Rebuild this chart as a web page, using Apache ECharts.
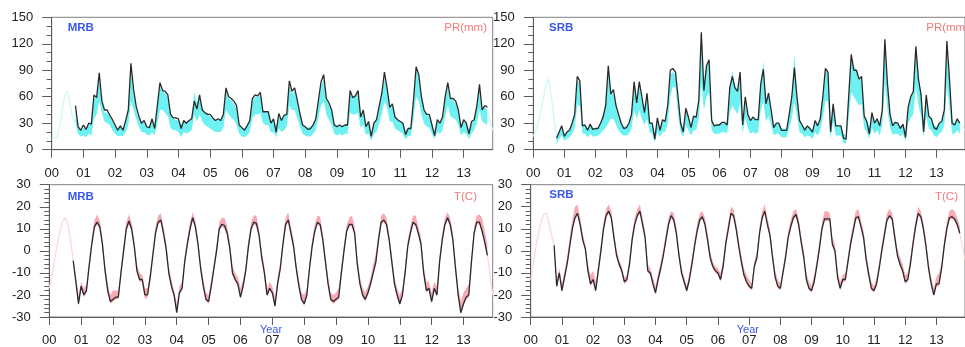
<!DOCTYPE html>
<html><head><meta charset="utf-8">
<script src="https://cdn.jsdelivr.net/npm/echarts@6/dist/echarts.min.js"></script>
<style>html,body{margin:0;padding:0;background:#fff}#c{width:965px;height:347px}</style>
</head><body><div id="c"></div>
<script>
// x axis: month index, 0 = Jan 2000; ticks every 12 months
const yearLabels = ['00','01','02','03','04','05','06','07','08','09','10','11','12','13'];
const firstObsMonth = 9;   // Oct 2000
const postStartMonth = 165;

// ---- MRB precipitation (mm), Oct 2000 .. Oct 2013 ----
const mrbPR = [50,26,22,
28,23,30,29,62,59,87,55,45,45,39,34,
28,22,27,22,33,45,98,68,49,38,30,33,
26,25,35,24,50,76,67,66,62,40,36,36,
35,24,33,30,33,35,55,46,62,45,42,40,
40,36,33,35,33,40,70,60,58,55,50,28,
25,22,27,33,58,62,61,65,43,43,43,30,
35,20,41,33,39,40,78,66,70,56,41,28,
26,23,24,28,35,56,77,85,58,53,45,28,
26,28,26,28,28,67,59,61,67,37,45,26,
32,15,30,34,49,64,88,70,48,52,37,34,
32,30,17,24,24,56,94,85,60,45,40,40,
28,16,34,30,37,60,76,58,58,55,45,25,
34,30,18,32,34,50,74,45,50,48];
const mrbPRhi = [45,24,22,
25,24,28,30,58,58,80,55,42,42,38,32,
27,24,26,24,32,45,90,62,46,36,30,32,
26,26,33,28,50,72,66,64,60,40,35,34,
33,28,32,30,33,36,65,52,60,48,42,40,
38,35,33,34,33,42,66,58,56,52,46,28,
25,24,28,34,55,60,60,62,45,42,42,32,
34,26,38,34,38,42,72,64,66,54,40,30,
26,25,26,28,36,55,72,80,58,50,44,30,
27,28,27,28,30,64,60,60,64,40,44,28,
30,18,30,34,48,62,82,68,50,50,38,34,
32,30,22,25,26,55,90,82,60,46,40,38,
30,20,32,30,36,58,72,58,56,52,44,28,
32,30,22,30,34,48,70,48,48,45];
const mrbPRlo = [30,18,15,
16,14,18,16,35,40,55,42,32,30,28,22,
18,15,16,15,20,28,55,45,35,26,20,20,
17,16,20,16,30,45,45,42,38,25,22,22,
20,14,20,18,20,22,40,32,40,32,28,26,
24,22,20,20,20,25,45,40,36,34,28,18,
15,14,16,20,36,40,40,42,30,28,28,20,
20,14,24,20,22,26,50,45,45,36,26,18,
16,15,15,18,22,36,50,55,40,34,28,18,
16,18,16,18,18,42,40,40,42,25,28,17,
18,10,18,20,30,40,55,48,32,32,24,22,
20,18,12,15,16,35,60,55,40,30,26,25,
18,12,20,18,22,38,50,38,36,34,28,16,
20,18,12,18,22,30,45,32,30,28];
const mrbPRpre = [13,13,15,25,45,62,66,50,35,30];
const mrbPRpost = [45,32,22];

// ---- SRB precipitation (mm) ----
const srbPR = [13,20,27,
15,20,22,30,40,83,78,27,28,22,29,23,
24,24,30,37,50,95,63,68,50,40,30,24,
25,30,40,77,53,77,60,42,64,30,30,12,
36,22,34,32,50,90,92,88,60,30,20,47,
37,25,38,37,55,133,67,95,102,33,27,28,
28,31,31,28,70,83,70,66,88,28,60,40,
33,37,34,34,75,91,52,64,45,25,30,30,
22,22,22,40,60,93,60,33,28,22,27,24,
20,33,27,35,60,92,88,20,52,27,27,27,
13,12,60,108,90,90,80,83,38,32,18,42,
30,35,27,45,125,75,40,27,31,30,24,29,
14,48,60,66,117,80,62,20,62,38,35,25,
23,30,32,45,123,80,30,28,35,30];
const srbPRhi = [15,20,25,
18,20,22,30,40,78,75,30,28,24,28,25,
24,25,30,40,55,88,65,62,50,40,30,26,
26,30,40,72,58,72,58,45,58,32,30,18,
34,24,33,32,50,85,88,85,60,32,24,45,
36,27,37,37,55,120,72,95,98,36,28,28,
30,31,31,30,72,90,72,68,82,32,58,40,
34,36,34,36,78,100,55,62,45,28,30,30,
24,24,24,40,62,108,62,35,28,25,27,25,
22,32,28,35,60,90,86,30,50,28,27,27,
18,16,60,106,95,90,82,80,40,34,25,40,
32,34,28,45,118,75,42,30,32,30,26,28,
20,46,58,66,122,80,62,28,58,38,35,28,
26,30,32,45,115,78,35,30,34,30];
const srbPRlo = [6,12,16,
10,12,14,18,24,50,50,18,18,14,18,15,
15,16,18,22,25,30,35,35,28,22,18,16,
16,18,24,45,35,45,35,28,35,20,18,8,
20,14,20,20,30,60,72,70,40,20,14,28,
22,16,22,22,35,75,45,60,65,22,18,18,
18,20,20,18,42,50,45,40,52,18,36,25,
18,20,18,20,45,55,32,38,28,16,18,18,
14,14,14,24,36,55,38,20,18,14,16,15,
12,20,16,22,36,55,55,12,32,16,16,16,
8,7,36,65,60,55,50,52,24,20,12,25,
18,22,16,28,75,45,25,17,18,18,15,18,
9,30,36,40,72,50,38,14,38,24,22,16,
14,18,20,28,72,48,18,18,22,18];
const srbPRpre = [15,22,32,45,60,75,80,60,35,15];
const srbPRpost = [30,26,22];

// ---- MRB temperature (C) ----
const mrbT = [-4.5,-14,-24,
-16,-20,-18,-7,3,11,13,11,3,-9,-18,-23,
-22,-21,-21,-10,0,10,13.5,10,2,-9,-13,-13,
-20,-20,-12,-2,8,13,14,8,1,-10,-16,-20,
-28,-19,-17,-5,3,10,15,11,3,-8,-16,-22,
-23,-16,-8,0,10,12,11.5,8,1,-10,-13,-15,
-21,-16,-9,2,10,13,12.5,7,-3,-10,-20,-17,
-19,-25,-15,-8,3,12,14,8,2,-8,-16,-22,
-24,-20,-8,2,9,13,12,5,-5,-15,-22,-23,
-22,-21,-10,0,9,12,12,8,-6,-15,-20,-22,
-19,-15,-10,-5,5,13,14,12,5,-5,-15,-20,
-24,-20,-10,2,8,13,12,8,3,-10,-18,-17,
-23,-17,-20,-5,5,12,15,12,5,-8,-20,-28,
-24,-21,-20,-5,8,13,13,9,4,-2];
const mrbThi = [-3,-11,-20,
-14,-17,-15,-4,6,14,16.5,14,6,-6,-15,-20,
-18,-18,-18,-7,3,13,16.5,13,5,-6,-10,-11,
-17,-17,-9,1,11,16,17,11,4,-7,-13,-18,
-24,-16,-14,-2,6,13,17.5,14,6,-5,-13,-19,
-20,-13,-5,3,13,15,15,11,4,-7,-10,-12,
-17,-13,-6,5,13,16,16,10,0,-7,-17,-14,
-16,-21,-12,-5,6,15,17.5,11,5,-5,-13,-19,
-20,-17,-5,5,12,16,15.5,8,-2,-12,-19,-20,
-19,-17,-7,3,12,15,16,11,-3,-12,-17,-19,
-16,-12,-6,-1,8,16,17,15,8,-2,-12,-17,
-20,-17,-7,5,11,16,16,11,6,-7,-14,-14,
-19,-14,-16,-2,8,15,17.5,15,8,-5,-16,-23,
-19,-17,-15,-2,11,16,16.5,15,9,3];
const mrbTlo = [-5,-15,-25,
-17,-21,-19,-8,2,10,12,10,2,-10,-19,-24,
-23,-22,-22,-11,-1,9,12,9,1,-10,-14,-14,
-22,-21,-13,-3,7,12,13,7,0,-11,-17,-21,
-28,-20,-18,-6,2,9,14,10,2,-9,-17,-23,
-24,-17,-9,-1,9,11,10,7,0,-11,-14,-16,
-22,-17,-10,1,9,12,11,6,-4,-11,-21,-18,
-20,-26,-16,-9,2,11,13,7,1,-9,-17,-23,
-25,-21,-9,1,8,12,11,4,-6,-16,-23,-24,
-23,-22,-11,-1,8,11,11,7,-7,-16,-21,-23,
-20,-16,-11,-6,4,12,13,11,4,-6,-16,-21,
-25,-21,-11,1,7,12,11,7,2,-11,-19,-18,
-24,-18,-21,-6,4,11,14,11,4,-9,-21,-29,
-25,-22,-21,-6,7,12,12,8,3,-3];
const mrbTpre = [-17,-11,-4,3,9,13.5,15,12,5,-4.5];
const mrbTpost = [-2,-11,-20];

// ---- SRB temperature (C) ----
const srbT = [2.5,-16,-10,
-18,-12,-6,2,10,15,17,12,5,1,-9,-15,
-13,-18,-9,0,10,16,18,15,6,-2,-6,-9,
-14,-13,-6,5,12,16,18,12,6,-9,-10,-15,
-19,-13,-8,-2,5,12,16,14,8,-2,-10,-14,
-18,-13,-6,2,9,14,15.5,12,5,-3,-7,-9,
-10,-13,-7,3,10,17,16,10,2,-5,-11,-14,
-16,-17,-7,-3,8,15,18,12,7,-3,-12,-16,
-17,-10,-3,6,11,15,16.5,12,4,-3,-13,-17,
-18,-14,-7,1,10,14.5,14.5,14.5,3,0,-12,-17,
-13,-13,-5,3,9,15,15.5,11,6,-4,-11,-17,
-18,-15,-8,0,7,14,16,14.5,6,-2,-6,-9,
-14,-13,-6,3,11,17,15.5,10,2,-8,-15,-20,
-15,-15,-8,2,10,15,15.5,14.5,12,8];
const srbThi = [4,-13,-8,
-15,-9,-3,6,14,20,21,15,8,3,-6,-11,
-9,-14,-6,3,13,19,21,18,9,1,-4,-7,
-12,-11,-3,8,15,19,21,15,9,-6,-8,-12,
-16,-10,-5,1,8,15,18,17,11,1,-7,-12,
-16,-10,-3,5,12,17,18,15,8,0,-5,-7,
-8,-10,-4,6,13,20,19,13,5,-2,-8,-11,
-13,-15,-5,0,11,18,21,15,10,0,-9,-13,
-15,-8,0,9,14,18,19,15,7,0,-10,-14,
-16,-11,-4,4,13,18,18,17,6,3,-9,-14,
-11,-10,-2,6,12,18,19,14,9,-1,-8,-14,
-16,-12,-5,3,10,17,19,17,9,1,-3,-6,
-11,-10,-3,6,14,20,18,13,5,-5,-12,-17,
-12,-10,-5,5,13,18,19,18,15,11];
const srbTlo = [2,-17,-11,
-19,-13,-7,1,9,14,16,11,4,0,-10,-16,
-14,-19,-10,-1,9,15,17,14,5,-3,-7,-10,
-15,-14,-7,4,11,15,17,11,5,-10,-11,-16,
-20,-14,-9,-3,4,11,15,13,7,-3,-11,-15,
-19,-14,-7,1,8,13,14.5,11,4,-4,-8,-10,
-11,-14,-8,2,9,16,15,9,1,-6,-12,-15,
-17,-18,-8,-4,7,14,17,11,6,-4,-13,-17,
-18,-11,-4,5,10,14,15.5,11,3,-4,-14,-18,
-19,-15,-8,0,9,13.5,13.5,13.5,2,-1,-13,-18,
-14,-14,-6,2,8,14,14.5,10,5,-5,-12,-18,
-19,-16,-9,-1,6,13,15,13.5,5,-3,-7,-10,
-15,-14,-7,2,10,16,14.5,9,1,-9,-16,-21,
-16,-16,-9,1,9,14,14.5,13.5,11,7];
const srbTpre = [-13,-6,2,8,13,16.5,17,13,7,2.5];
const srbTpost = [8,2,-4];

const FONT = 'Liberation Sans, Arial, Helvetica, sans-serif';
const AXIS_COLOR = '#5c5c5c';
const yearTickVals = yearLabels.map((_, i) => i * 12);

const panels = [
  {grid:{left:51.7, top:17.3, width:441, height:132.4}, ymin:0, ymax:150, yint:30, minor:3,
   obs:mrbPR, hi:mrbPRhi, lo:mrbPRlo, pre:mrbPRpre, post:mrbPRpost, band:'#6ef1f2', faint:'#cdf8f8', year:false},
  {grid:{left:533.3, top:17.3, width:441.9, height:132.4}, ymin:0, ymax:150, yint:30, minor:3,
   obs:srbPR, hi:srbPRhi, lo:srbPRlo, pre:srbPRpre, post:srbPRpost, band:'#6ef1f2', faint:'#cdf8f8', year:false},
  {grid:{left:49.3, top:184.7, width:443.4, height:132.3}, ymin:-30, ymax:30, yint:10, minor:5,
   obs:mrbT, hi:mrbThi, lo:mrbTlo, pre:mrbTpre, post:mrbTpost, band:'#f5aab4', faint:'#fad6dc', year:true},
  {grid:{left:530.7, top:184.7, width:443.9, height:132.6}, ymin:-30, ymax:30, yint:10, minor:5,
   obs:srbT, hi:srbThi, lo:srbTlo, pre:srbTpre, post:srbTpost, band:'#f5aab4', faint:'#fad6dc', year:true}
];

const grids = [], xAxes = [], yAxes = [], series = [];
panels.forEach((p, i) => {
  grids.push(Object.assign({show:true, borderColor:'#808080', borderWidth:1, backgroundColor:'#fff'}, p.grid));
  xAxes.push({
    type:'value', gridIndex:i, min:0, max:167,
    axisLine:{show:true, onZero:false, lineStyle:{color:AXIS_COLOR, width:1}},
    axisTick:{show:true, inside:false, length:8, customValues:yearTickVals, lineStyle:{color:AXIS_COLOR}},
    axisLabel:{show:true, margin:17, fontSize:13, color:'#222', fontFamily:FONT, customValues:yearTickVals,
      formatter:v => yearLabels[Math.round(v/12)] || ''},
    splitLine:{show:false},
    name: p.year ? 'Year' : '', nameLocation:'middle', nameGap:7, nameMoveOverlap:false,
    nameTextStyle:{color:'#3a58ee', fontSize:11, fontFamily:FONT}
  });
  yAxes.push({
    type:'value', gridIndex:i, min:p.ymin, max:p.ymax, interval:p.yint,
    axisLine:{show:true, onZero:false, lineStyle:{color:AXIS_COLOR, width:1}},
    axisTick:{show:true, inside:false, length:9.5, lineStyle:{color:AXIS_COLOR}},
    minorTick:{show:true, splitNumber:p.minor, length:5, lineStyle:{color:AXIS_COLOR}},
    axisLabel:{margin:18.5, fontSize:13, color:'#222', fontFamily:FONT},
    splitLine:{show:false}
  });
  const n = Math.min(p.obs.length, p.hi.length, p.lo.length);
  const hi = p.hi, lo = p.lo, fill = p.band;
  series.push({
    type:'custom', xAxisIndex:i, yAxisIndex:i, silent:true, z:1, data:[[firstObsMonth, p.ymin]],
    renderItem:(params, api) => {
      const pts = [];
      for (let k = 0; k < n; k++) pts.push(api.coord([firstObsMonth + k, hi[k]]));
      for (let k = n - 1; k >= 0; k--) pts.push(api.coord([firstObsMonth + k, lo[k]]));
      return {type:'polygon', shape:{points:pts}, style:{fill:fill}};
    }
  });
  series.push({
    type:'line', xAxisIndex:i, yAxisIndex:i, silent:true, z:2, showSymbol:false, smooth:false,
    data:p.pre.map((v, k) => [k, v]), lineStyle:{color:p.faint, width:1.2}
  });
  series.push({
    type:'line', xAxisIndex:i, yAxisIndex:i, silent:true, z:2, showSymbol:false,
    data:p.post.map((v, k) => [postStartMonth + k, v]), lineStyle:{color:p.faint, width:1.2}
  });
  series.push({
    type:'line', xAxisIndex:i, yAxisIndex:i, silent:true, z:3, showSymbol:false,
    data:p.obs.slice(0, n).map((v, k) => [firstObsMonth + k, v]), lineStyle:{color:'#2a2a2a', width:1.3}
  });
});

function label(text, x, y, color, bold, align) {
  return {type:'text', z:10, style:{text:text, x:x, y:y, fill:color, textAlign:align, textVerticalAlign:'middle',
    font:(bold ? 'bold ' : '') + '11.5px ' + FONT}};
}
const graphics = [
  label('MRB', 67.7, 27.8, '#3a58ee', true, 'left'),
  label('SRB', 549, 27.8, '#3a58ee', true, 'left'),
  label('MRB', 67.7, 196.7, '#3a58ee', true, 'left'),
  label('SRB', 549.3, 194.5, '#3a58ee', true, 'left'),
  label('PR(mm)', 487, 27.7, '#f27a7a', false, 'right'),
  label('PR(mm)', 969, 27.7, '#f27a7a', false, 'right'),
  label('T(C)', 477, 197, '#f27a7a', false, 'right'),
  label('T(C)', 958, 197, '#f27a7a', false, 'right')
];

const chart = echarts.init(document.getElementById('c'), null, {renderer:'canvas'});
chart.setOption({animation:false, backgroundColor:'#fff', grid:grids, xAxis:xAxes, yAxis:yAxes, series:series, graphic:graphics});
</script></body></html>
